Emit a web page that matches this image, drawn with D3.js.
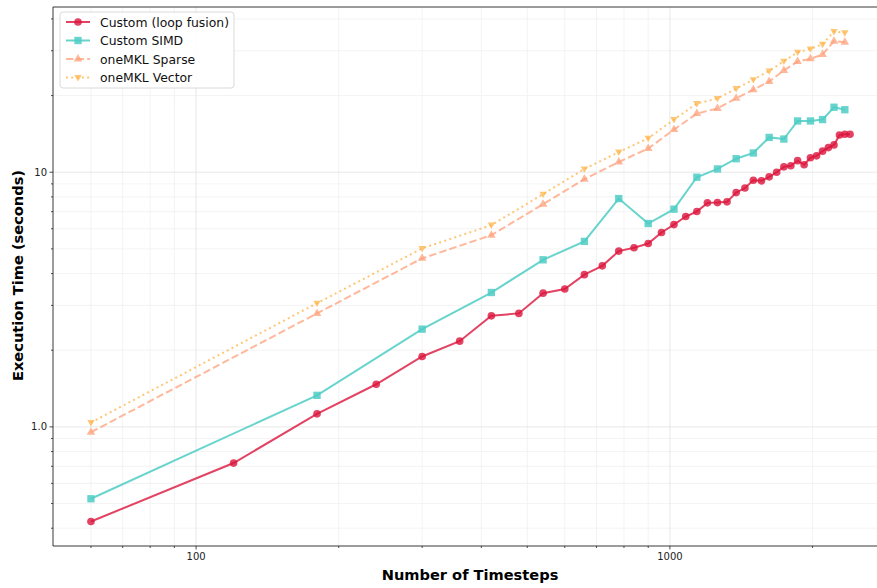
<!DOCTYPE html>
<html>
<head>
<meta charset="utf-8">
<script src="https://cdn.jsdelivr.net/npm/d3@7"></script>
<style>
  body { margin: 0; background: #fff; }
  svg { display: block; font-family: "DejaVu Sans", sans-serif; }
  .axis-title { font-weight: bold; font-size: 14.6px; fill: #000; }
  .tick-label { font-size: 10px; fill: #222; }
  .legend-text { font-size: 12.4px; fill: #111; }
</style>
</head>
<body>
<svg id="chart"></svg>
<script>
// timesteps measured for each series
const fusionSteps = [60, 120, 180, 240, 300, 360, 420, 480, 540, 600,
    660, 720, 780, 840, 900, 960, 1020, 1080, 1140, 1200,
    1260, 1320, 1380, 1440, 1500, 1560, 1620, 1680, 1740, 1800,
    1860, 1920, 1980, 2040, 2100, 2160, 2220, 2280, 2340, 2400]
const fusionTimes = [0.425, 0.721, 1.125, 1.47, 1.89, 2.17, 2.73, 2.79, 3.35, 3.48,
    3.96, 4.29, 4.9, 5.05, 5.25, 5.8, 6.23, 6.7, 7.01, 7.58,
    7.6, 7.65, 8.32, 8.67, 9.3, 9.25, 9.59, 10.0, 10.5, 10.6,
    11.1, 10.7, 11.4, 11.6, 12.1, 12.5, 12.8, 14.0, 14.1, 14.1]

const otherSteps = [60, 180, 300, 420, 540, 660, 780, 900, 1020, 1140,
    1260, 1380, 1500, 1620, 1740, 1860, 1980, 2100, 2220, 2340]
const simdTimes = [0.522, 1.33, 2.42, 3.37, 4.53, 5.35, 7.88, 6.29, 7.16, 9.56,
    10.3, 11.3, 11.9, 13.7, 13.5, 15.9, 15.9, 16.1, 18.0, 17.6]
const sparseTimes = [0.953, 2.79, 4.59, 5.66, 7.49, 9.39, 10.97, 12.4, 14.7, 17.0,
    17.8, 19.5, 21.1, 22.7, 25.1, 27.2, 27.9, 29.0, 32.7, 32.4]
const vectorTimes = [1.04, 3.06, 5.02, 6.2, 8.2, 10.3, 12.0, 13.6, 16.1, 18.6,
    19.5, 21.3, 23.1, 25.0, 27.3, 29.6, 30.5, 31.8, 35.7, 35.3]

const seriesNames = ['Custom (loop fusion)', 'Custom SIMD', 'oneMKL Sparse', 'oneMKL Vector']

const xMajorTicks = [100, 1000]
const xTickLabels = ['100', '1000']
const xMinorTicks = [60, 70, 80, 90, 200, 300, 400, 500, 600, 700, 800, 900, 2000]
const yMajorTicks = [1, 10]
const yTickLabels = ['1.0', '10']
const yMinorTicks = [0.4, 0.5, 0.6, 0.7, 0.8, 0.9, 2, 3, 4, 5, 6, 7, 8, 9, 20, 30, 40]

const series = [
    {name: seriesNames[0], xs: fusionSteps, ys: fusionTimes, color: '#DC143C', marker: 'circle', dash: null, alpha: 0.8},
    {name: seriesNames[1], xs: otherSteps, ys: simdTimes, color: '#4ECDC4', marker: 'square', dash: null, alpha: 0.85},
    {name: seriesNames[2], xs: otherSteps, ys: sparseTimes, color: '#FFA07A', marker: 'triUp', dash: '7.4,3.2', alpha: 0.75},
    {name: seriesNames[3], xs: otherSteps, ys: vectorTimes, color: '#FFB347', marker: 'triDown', dash: '2,3.3', alpha: 0.75},
]

const W = 877, H = 588
const margin = {left: 53, top: 7, right: -11, bottom: 42}

const svg = d3.select('#chart').attr('width', W).attr('height', H)

// log domains padded like matplotlib (5% in log space)
function padLog(vals) {
    const [lo, hi] = d3.extent(vals)
    const a = Math.log10(lo), b = Math.log10(hi), m = (b - a) * 0.05
    return [Math.pow(10, a - m), Math.pow(10, b + m)]
}
const allY = fusionTimes.concat(simdTimes, sparseTimes, vectorTimes)

const x = d3.scaleLog()
    .domain(padLog(fusionSteps))
    .range([margin.left, W - margin.right])
const y = d3.scaleLog()
    .domain(padLog(allY))
    .range([H - margin.bottom, margin.top])

const x0 = margin.left, x1 = W - margin.right
const y0 = H - margin.bottom, y1 = margin.top

// grid
const grid = svg.append('g')
grid.selectAll('.gx-minor').data(xMinorTicks).join('line')
    .attr('x1', d => x(d)).attr('x2', d => x(d)).attr('y1', y0).attr('y2', y1)
    .attr('stroke', '#f0f0f0').attr('stroke-width', 0.8)
grid.selectAll('.gy-minor').data(yMinorTicks).join('line')
    .attr('y1', d => y(d)).attr('y2', d => y(d)).attr('x1', x0).attr('x2', x1)
    .attr('stroke', '#f0f0f0').attr('stroke-width', 0.8)
grid.selectAll('.gx-major').data(xMajorTicks).join('line')
    .attr('x1', d => x(d)).attr('x2', d => x(d)).attr('y1', y0).attr('y2', y1)
    .attr('stroke', '#e2e2e2').attr('stroke-width', 0.8)
grid.selectAll('.gy-major').data(yMajorTicks).join('line')
    .attr('y1', d => y(d)).attr('y2', d => y(d)).attr('x1', x0).attr('x2', x1)
    .attr('stroke', '#e2e2e2').attr('stroke-width', 0.8)

// lines + markers
const line = d3.line().x(d => x(d[0])).y(d => y(d[1]))

function markerPath(type) {
    if (type === 'circle') return d3.symbol(d3.symbolCircle, 46)()
    if (type === 'square') return d3.symbol(d3.symbolSquare, 54)()
    if (type === 'triUp') return d3.symbol(d3.symbolTriangle, 32)()
    return 'M0,3.9L-3.7,-2.5L3.7,-2.5Z'
}

const plot = svg.append('g')
series.forEach(s => {
    const pts = s.xs.map((v, i) => [v, s.ys[i]])
    plot.append('path')
        .datum(pts)
        .attr('d', line)
        .attr('fill', 'none')
        .attr('stroke', s.color)
        .attr('stroke-width', 2)
        .attr('stroke-opacity', s.alpha)
        .attr('stroke-dasharray', s.dash)
    plot.append('g').selectAll('path').data(pts).join('path')
        .attr('transform', d => `translate(${x(d[0])},${y(d[1])})`)
        .attr('d', markerPath(s.marker))
        .attr('fill', s.color)
        .attr('fill-opacity', s.alpha)
})

// spines
svg.append('line').attr('x1', x0).attr('x2', x0).attr('y1', y0).attr('y2', y1).attr('stroke', '#222').attr('stroke-width', 0.9)
svg.append('line').attr('x1', x0).attr('x2', W).attr('y1', y0).attr('y2', y0).attr('stroke', '#222').attr('stroke-width', 0.9)
svg.append('line').attr('x1', x0).attr('x2', W).attr('y1', y1).attr('y2', y1).attr('stroke', '#222').attr('stroke-width', 0.9)

// ticks
const ticks = svg.append('g').attr('stroke', '#222').attr('stroke-width', 0.8)
ticks.selectAll('.xt').data(xMajorTicks).join('line')
    .attr('x1', d => x(d)).attr('x2', d => x(d)).attr('y1', y0).attr('y2', y0 + 3.5)
ticks.selectAll('.xm').data(xMinorTicks).join('line')
    .attr('x1', d => x(d)).attr('x2', d => x(d)).attr('y1', y0).attr('y2', y0 + 2)
ticks.selectAll('.yt').data(yMajorTicks).join('line')
    .attr('y1', d => y(d)).attr('y2', d => y(d)).attr('x1', x0).attr('x2', x0 - 3.5)
ticks.selectAll('.ym').data(yMinorTicks).join('line')
    .attr('y1', d => y(d)).attr('y2', d => y(d)).attr('x1', x0).attr('x2', x0 - 2)

svg.selectAll('.xl').data(xMajorTicks).join('text')
    .attr('class', 'tick-label')
    .attr('x', d => x(d)).attr('y', y0 + 14)
    .attr('text-anchor', 'middle')
    .text((d, i) => xTickLabels[i])
svg.selectAll('.yl').data(yMajorTicks).join('text')
    .attr('class', 'tick-label')
    .attr('x', x0 - 6).attr('y', d => y(d) + 3.5)
    .attr('text-anchor', 'end')
    .text((d, i) => yTickLabels[i])

// axis titles
svg.append('text')
    .attr('class', 'axis-title')
    .attr('x', 470).attr('y', 580)
    .attr('text-anchor', 'middle')
    .text('Number of Timesteps')
svg.append('text')
    .attr('class', 'axis-title')
    .attr('transform', `translate(23,${(y0 + y1) / 2 - 1}) rotate(-90)`)
    .attr('text-anchor', 'middle')
    .text('Execution Time (seconds)')

// legend
const legend = svg.append('g').attr('transform', 'translate(60,12)')
legend.append('rect')
    .attr('width', 174).attr('height', 76).attr('rx', 3)
    .attr('fill', '#fff').attr('fill-opacity', 0.85)
    .attr('stroke', '#d0d0d0').attr('stroke-width', 0.8)
series.forEach((s, i) => {
    const g = legend.append('g').attr('transform', `translate(0,${10 + i * 18.5})`)
    g.append('line').attr('x1', 6).attr('x2', 30)
        .attr('stroke', s.color).attr('stroke-width', 2)
        .attr('stroke-opacity', s.alpha).attr('stroke-dasharray', s.dash)
    g.append('path').attr('transform', 'translate(18,0)')
        .attr('d', markerPath(s.marker))
        .attr('fill', s.color).attr('fill-opacity', s.alpha)
    g.append('text').attr('class', 'legend-text')
        .attr('x', 40).attr('y', 4.5)
        .text(s.name)
})
</script>
</body>
</html>
